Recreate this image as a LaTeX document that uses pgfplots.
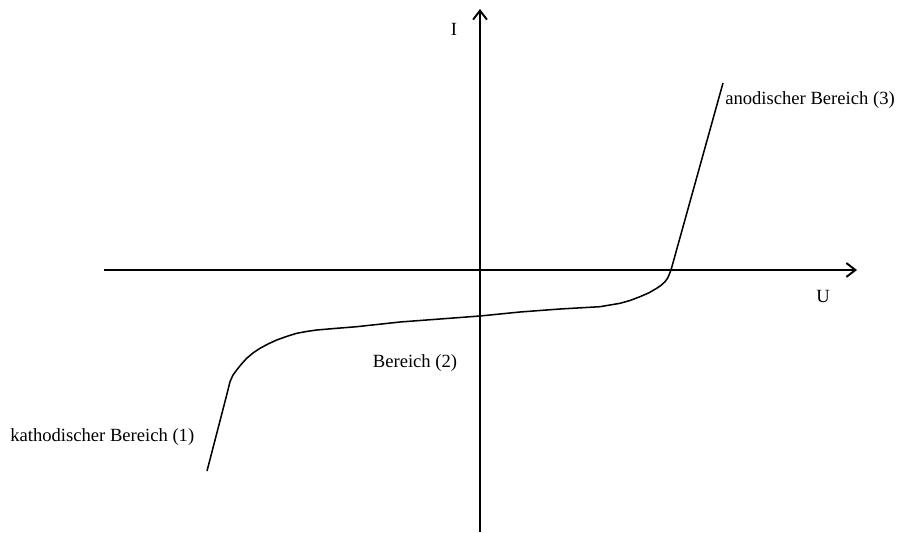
\documentclass[border=0pt]{standalone}
\usepackage{fontspec}
\setmainfont{Liberation Serif}
\usepackage{pgfplots}
\pgfplotsset{compat=1.18}
\usetikzlibrary{arrows.meta}

\begin{document}
\begin{tikzpicture}
\begin{axis}[
    x=0.72pt, y=0.72pt,
    xmin=-376, xmax=377,
    ymin=-262, ymax=261,
    axis lines=middle,
    axis line style={line width=1.3pt, -{Straight Barb[length=6.5pt,width=10pt,line width=1.4pt]}},
    ticks=none,
    clip=false,
    font=\fontsize{13.4}{15}\selectfont,
]
% fixes the page to the reference frame
\path (axis cs:-480,-262) rectangle (axis cs:421,270);

\addplot[black, line width=1.1pt, line join=round] coordinates {
    (-273,-201) (-253.3,-125) (-250,-111.7) (-247,-105) (-243.3,-100)
    (-238.5,-94) (-233.3,-88.3) (-227,-83) (-220,-78.3) (-212,-74)
    (-203.3,-70) (-193,-66.3) (-183.3,-63.3) (-173,-61.4) (-163.3,-60)
    (-143.3,-58.3) (-123.3,-56.7) (-80,-52) (-40,-49) (0,-46)
    (40,-42) (80,-39) (120,-36.7) (140,-33.3) (150,-30.5) (160,-26.7)
    (169,-22.8) (176.7,-18.3) (181.5,-15) (185,-11.7) (187.5,-8.3) (189,-5)
    (191,0) (243,187)
};

\node at (axis cs:-26,241) {I};
\node at (axis cs:343,-26) {U};
\node[anchor=west, inner sep=0pt] at (axis cs:245,170) {anodischer Bereich (3)};
\node at (axis cs:-65,-93) {Bereich (2)};
\node[anchor=west, inner sep=0pt] at (axis cs:-470,-167) {kathodischer Bereich (1)};
\end{axis}
\end{tikzpicture}
\end{document}
